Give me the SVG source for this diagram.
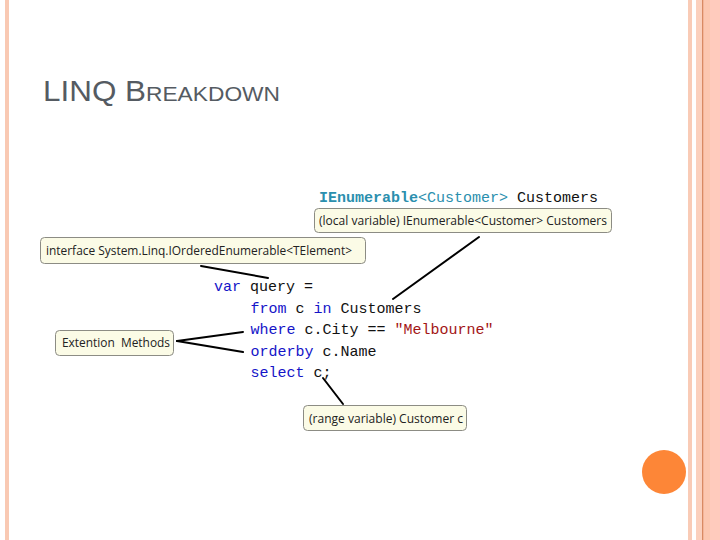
<svg xmlns="http://www.w3.org/2000/svg" width="720" height="540" viewBox="0 0 720 540">
<style>
.tip{fill:#fbfbe6;stroke:#8c8c84;stroke-width:1}
.tt{font-family:"Open Sans","Liberation Sans",sans-serif;font-size:12px;fill:#222}
.code{font-family:"Liberation Mono","DejaVu Sans Mono",monospace;font-size:15px;fill:#111}
.kw{fill:#1414c8}
.ty{fill:#2b8fae}
.str{fill:#a31515}
.con{stroke:#000;stroke-width:2;fill:none;stroke-linecap:round}
</style>
<rect x="0" y="0" width="720" height="540" fill="#ffffff"/>
<!-- decorations -->
<rect x="5" y="0" width="4" height="540" fill="#f9c9b3"/>
<rect x="688" y="0" width="4" height="540" fill="#f9cbb6"/>
<rect x="696" y="0" width="24" height="540" fill="#fcc7b0"/>
<rect x="696" y="0" width="6" height="540" fill="#fbd0bd"/>
<rect x="702" y="0" width="1.3" height="540" fill="#d98a63"/>
<rect x="710" y="0" width="10" height="540" fill="#ffcbbd"/>
<circle cx="664" cy="472" r="22" fill="#fd8637"/>
<!-- title -->
<text x="43" y="101" font-family="Liberation Sans, Arial, sans-serif" fill="#555b62" textLength="237" lengthAdjust="spacingAndGlyphs"><tspan font-size="29">LINQ B</tspan><tspan font-size="21">REAKDOWN</tspan></text>
<!-- code -->
<g id="code">
<text class="code" x="319" y="202" font-size="15.2"><tspan class="ty" font-weight="bold">IEnumerable</tspan><tspan class="ty">&lt;Customer&gt;</tspan> Customers</text>
<text class="code" x="214" y="291"><tspan class="kw">var</tspan> query =</text>
<text class="code" x="250.5" y="313"><tspan class="kw">from</tspan> c <tspan class="kw">in</tspan> Customers</text>
<text class="code" x="250.5" y="334"><tspan class="kw">where</tspan> c.City == <tspan class="str">"Melbourne"</tspan></text>
<text class="code" x="250.5" y="356"><tspan class="kw">orderby</tspan> c.Name</text>
<text class="code" x="250.5" y="377"><tspan class="kw">select</tspan> c;</text>
</g>
<!-- connectors -->
<g id="connectors">
<line class="con" x1="201" y1="266" x2="268" y2="278"/>
<line class="con" x1="479" y1="237" x2="393" y2="299"/>
<line class="con" x1="177" y1="341" x2="243" y2="332"/>
<line class="con" x1="177" y1="341" x2="243" y2="352"/>
<line class="con" x1="323" y1="378" x2="343" y2="404"/>
</g>
<!-- nodes -->
<g id="tip-local">
<rect class="tip" x="314.5" y="208.5" width="297" height="24" rx="4"/>
<text class="tt" x="319" y="225" textLength="288" lengthAdjust="spacingAndGlyphs">(local variable) IEnumerable&lt;Customer&gt; Customers</text>
</g>
<g id="tip-interface">
<rect class="tip" x="40.5" y="237.5" width="325" height="26" rx="4"/>
<text class="tt" x="46" y="255" textLength="306" lengthAdjust="spacingAndGlyphs">interface System.Linq.IOrderedEnumerable&lt;TElement&gt;</text>
</g>
<g id="tip-extension">
<rect class="tip" x="55.5" y="330.5" width="118" height="25" rx="4"/>
<text class="tt" x="62" y="347" textLength="108" lengthAdjust="spacingAndGlyphs" xml:space="preserve">Extention  Methods</text>
</g>
<g id="tip-range">
<rect class="tip" x="303.5" y="405.5" width="163" height="25" rx="4"/>
<text class="tt" x="309" y="423" textLength="154" lengthAdjust="spacingAndGlyphs">(range variable) Customer c</text>
</g>
</svg>
